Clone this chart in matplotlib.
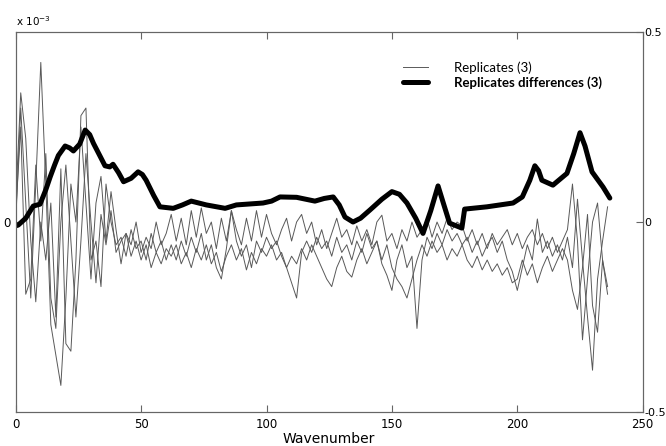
import numpy as np
import matplotlib.pyplot as plt

# wavenumber grid of the replicate spectra
wavenumber = np.arange(0, 238, 2)

# replicate spectra (x 10^-3)
rep1 = [0.00, 0.30, 0.05, -0.20, 0.10, 0.42, 0.10, -0.27, -0.35, -0.43,
        -0.20, 0.10, 0.00, 0.25, 0.05, -0.15, 0.05, 0.12, -0.05, 0.08,
        -0.02, -0.11, -0.03, -0.06, 0.00, -0.08, -0.04, -0.07, 0.00, -0.06,
        -0.03, 0.02, -0.05, 0.01, -0.06, 0.03, -0.04, 0.037, -0.03, 0.00,
        -0.07, 0.01, -0.05, 0.03, -0.02, -0.06, 0.01, -0.05, 0.03, -0.04,
        0.02, -0.03, -0.06, -0.02, 0.01, -0.05, 0.00, 0.02, -0.03, 0.00,
        -0.06, -0.02, -0.07, -0.03, 0.01, -0.04, -0.02, -0.06, -0.01, -0.05,
        -0.02, -0.06, 0.00, 0.018, -0.05, -0.03, -0.07, -0.02, -0.05, 0.00,
        -0.04, -0.02, 0.01, -0.04, 0.00, -0.03, 0.01, -0.02, 0.00, -0.01,
        -0.05, -0.02, -0.06, -0.03, -0.07, -0.03, -0.06, -0.04, -0.02, -0.06,
        -0.03, -0.07, -0.04, -0.02, -0.06, -0.03, -0.07, -0.04, -0.08, -0.05,
        -0.02, 0.10, -0.05, -0.31, -0.15, 0.00, 0.05, -0.10, -0.17]

rep2 = [0.05, 0.34, 0.22, -0.05, -0.21, 0.00, -0.10, 0.05, -0.25, 0.14,
        -0.32, -0.34, -0.10, 0.28, 0.30, -0.10, -0.05, -0.17, 0.10, 0.00,
        -0.06, -0.04, -0.09, -0.02, -0.07, -0.05, -0.10, -0.03, -0.08, -0.05,
        -0.10, -0.06, -0.10, -0.05, -0.09, -0.04, -0.08, -0.03, -0.10, -0.06,
        -0.12, -0.15, -0.07, 0.03, -0.05, -0.09, -0.06, -0.12, -0.05, -0.08,
        -0.04, -0.07, -0.05, -0.09, -0.12, -0.16, -0.20, -0.08, -0.05, -0.08,
        -0.04, -0.07, -0.05, -0.09, -0.04, -0.08, -0.06, -0.10, -0.05, -0.08,
        -0.03, -0.07, -0.05, -0.11, -0.14, -0.18, -0.10, -0.06, -0.12, -0.09,
        -0.28, -0.10, -0.04, -0.07, -0.03, -0.06, -0.02, -0.05, -0.03, -0.06,
        -0.04, -0.08, -0.05, -0.09, -0.06, -0.04, -0.08, -0.05, -0.10, -0.13,
        -0.18, -0.12, -0.06, -0.10, 0.008, -0.08, -0.05, -0.09, -0.06, -0.10,
        -0.04, -0.12, 0.06, -0.10, -0.25, -0.39, -0.15, -0.05, 0.04]

rep3 = [0.02, 0.25, -0.19, -0.15, 0.15, -0.05, 0.18, -0.20, -0.28, 0.00,
        0.15, -0.05, -0.25, -0.05, 0.18, 0.00, -0.16, 0.02, -0.06, 0.03,
        -0.08, -0.05, -0.03, -0.09, -0.05, -0.10, -0.06, -0.12, -0.08, -0.11,
        -0.07, -0.09, -0.06, -0.11, -0.08, -0.12, -0.07, -0.10, -0.06, -0.11,
        -0.08, -0.13, -0.09, -0.06, -0.10, -0.07, -0.126, -0.08, -0.11, -0.07,
        -0.09, -0.06, -0.10, -0.08, -0.12, -0.09, -0.11, -0.07, -0.10, -0.06,
        -0.09, -0.12, -0.15, -0.17, -0.12, -0.09, -0.13, -0.145, -0.10, -0.07,
        -0.11, -0.08, -0.05, -0.10, -0.06, -0.12, -0.15, -0.17, -0.20, -0.15,
        -0.10, -0.06, -0.09, -0.05, -0.08, -0.06, -0.10, -0.07, -0.09, -0.06,
        -0.10, -0.12, -0.09, -0.126, -0.10, -0.13, -0.11, -0.14, -0.12, -0.16,
        -0.15, -0.10, -0.14, -0.11, -0.16, -0.12, -0.09, -0.13, -0.10, -0.07,
        -0.10, -0.18, -0.23, -0.12, 0.02, -0.22, -0.29, -0.10, -0.19]

# replicates differences curve
diff_x = [0, 1, 4, 7, 9.7, 12, 13.7, 15.5, 17, 19.7, 21.5, 23, 25.5, 27.7, 29.5,
          31, 33.5, 35.6, 37.5, 38.8, 41, 43, 46, 48.8, 50.5, 52, 55, 57.5,
          62.8, 66.5, 70, 76, 83.5, 88, 98.6, 102, 105.4, 112, 119.3, 123, 126.6,
          129, 131.3, 134.5, 137.5, 141.3, 146, 150, 153, 156, 159.5, 162.4,
          165.5, 168.4, 170.5, 173, 177.9, 179, 187.9, 198.3, 202, 205, 207,
          208.5, 209.8, 214.2, 219.8, 222.5, 225, 227, 229.8, 234.2, 236.9]
diff_y = [-0.01, -0.008, 0.01, 0.042, 0.047, 0.085, 0.118, 0.15, 0.175, 0.20,
          0.195, 0.187, 0.205, 0.242, 0.23, 0.207, 0.175, 0.148, 0.145, 0.152,
          0.13, 0.106, 0.115, 0.132, 0.125, 0.11, 0.07, 0.04, 0.036, 0.045,
          0.055, 0.045, 0.036, 0.045, 0.05, 0.055, 0.066, 0.065, 0.055, 0.062,
          0.066, 0.045, 0.013, 0.0, 0.01, 0.032, 0.06, 0.08, 0.073, 0.05,
          0.01, -0.03, 0.03, 0.095, 0.05, -0.003, -0.016, 0.034, 0.04, 0.05,
          0.066, 0.11, 0.148, 0.135, 0.11, 0.097, 0.128, 0.18, 0.235, 0.2,
          0.132, 0.092, 0.063]

fig = plt.figure(figsize=(6.66, 4.46), dpi=100)
ax = fig.add_axes([0.0236, 0.0762, 0.9414, 0.852])

for i, r in enumerate([rep1, rep2, rep3]):
    ax.plot(wavenumber, r, color="0.35", linewidth=0.7,
            label="Replicates (3)" if i == 0 else None)
ax.plot(diff_x, diff_y, color="black", linewidth=3.6,
        solid_joinstyle="round", solid_capstyle="round",
        label="Replicates differences (3)")

ax.set_xlim(0, 250)
ax.set_ylim(-0.5, 0.5)
ax.set_xticks([0, 50, 100, 150, 200, 250])
ax.set_yticks([0])
ax.set_yticklabels(["0"])
ax.tick_params(direction="in", top=True, length=5, color="0.4",
               labelsize=8.5, pad=4)
ax.set_xlabel("Wavenumber", fontsize=10, labelpad=1)
ax.text(0, 1.01, r"x $10^{-3}$", transform=ax.transAxes, fontsize=7.5,
        va="bottom")

# right-hand axis
ax2 = ax.twinx()
ax2.set_ylim(-0.5, 0.5)
ax2.set_yticks([-0.5, 0, 0.5])
ax2.set_yticklabels(["-0.5", "0", "0.5"])
ax2.tick_params(direction="in", length=5, color="0.4", labelsize=8, pad=1)

for a in (ax, ax2):
    for s in a.spines.values():
        s.set_color("0.4")
        s.set_linewidth(0.8)

leg = ax.legend(loc="upper left", bbox_to_anchor=(0.607, 0.94), frameon=False,
                handlelength=1.9, handletextpad=2.0, labelspacing=0.15,
                borderpad=0, prop={"family": "Lato", "size": 9.5})
leg.get_texts()[1].set_fontweight("bold")

plt.savefig("out.png", dpi=100)
